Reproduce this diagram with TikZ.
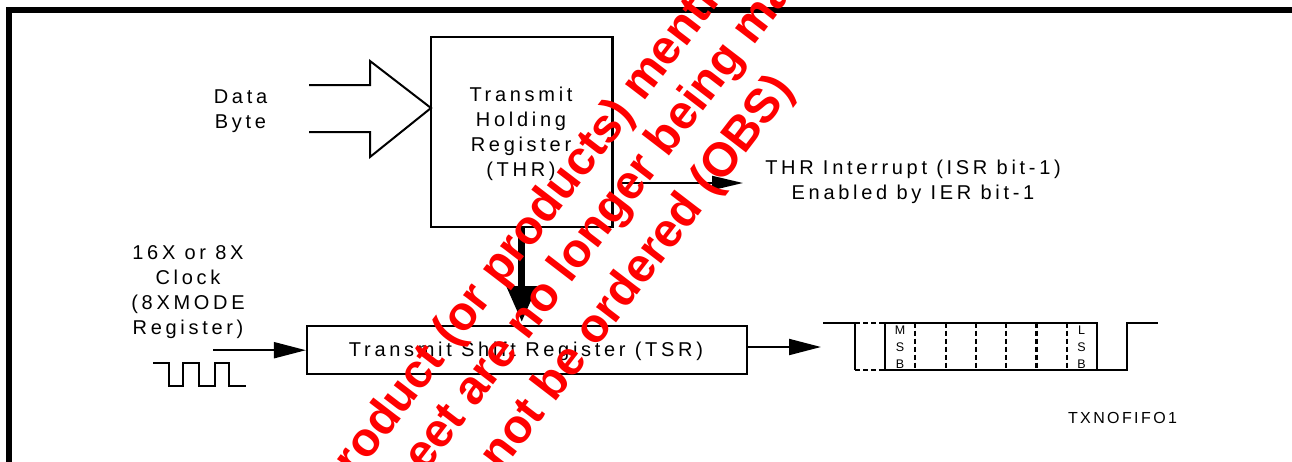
\documentclass[tikz,border=0pt]{standalone}
\usepackage{fontspec}
\setmainfont{Liberation Sans}
\newfontfamily\spfont[LetterSpace=18.5]{Liberation Sans}
\newfontfamily\spfontb[LetterSpace=15]{Liberation Sans}
\usetikzlibrary{arrows.meta}
\begin{document}
\begin{tikzpicture}[x=1pt,y=-1pt,
  lbl/.style={inner sep=0pt, align=center, font=\spfont\fontsize{20}{25}\selectfont},
  box/.style={draw, line width=2.2pt, inner sep=0pt},
  arr/.style={line width=2pt, -{Triangle[length=32pt,width=16pt]}},
  wave/.style={line width=2.2pt},
  dsh/.style={line width=2.2pt, dash pattern=on 5pt off 3pt},
  bitlbl/.style={inner sep=0pt, anchor=base, align=center, font=\fontsize{12.5}{17}\selectfont},
  wm/.style={text=red, inner sep=0pt, rotate=52.5, font=\bfseries\fontsize{47.7}{47.7}\selectfont}]
\path[use as bounding box, fill=white] (0,0) rectangle (1292,461);
\begin{scope}
\clip (0,0) rectangle (1292,461);
% frame
\draw[line width=6pt] (1310,9.7) -- (8.5,9.7) -- (8.5,480);
% THR box
\node[box, minimum width=181.5pt, minimum height=190pt] (thr) at (521.75,132) {};
\node[lbl, anchor=base] (thrtxt) at (521,176.5) {Transmit\\Holding\\Register\\(THR)};
% Data byte hollow arrow
\coordinate (dtip) at (431,108);
\draw[line width=2pt, line join=miter] (309,85) -- (370,85) -- (370,61) -- (dtip) -- (370,157) -- (370,132) -- (309,132);
\node[lbl, anchor=base] (data) at (240.5,128) {Data\\Byte};
% interrupt
\coordinate (intA) at (622,183);
\coordinate (intB) at (743,183);
\draw[line width=2pt, -{Triangle[length=31pt,width=14pt]}] (intA) -- (intB);
\node[lbl, anchor=base] (int) at (913,199) {THR Interrupt (ISR bit-1)\\Enabled by IER bit-1};
% TSR
\node[box, minimum width=440pt, minimum height=48pt] (tsr) at (527,350.2) {};
\node[lbl, anchor=base] (tsrtxt) at (526,356.7) {Transmit Shift Register (TSR)};
\draw[line width=7pt, -{Triangle[length=36pt,width=29pt]}, shorten >=3pt] (thr.south) -- (thr.south |- tsr.north);
% clock
\node[lbl, anchor=base] (clk) at (188,334.5) {16X or 8X\\Clock\\(8XMODE\\Register)};
\coordinate (clkA) at (213,350.2);
\draw[arr] (clkA) -- (tsr.west);
\draw[line width=2pt] (153,363) -- (169,363) -- (169,385.5) -- (183,385.5) -- (183,363) -- (199,363) -- (199,385.5) -- (215,385.5) -- (215,363) -- (229,363) -- (229,385.5) -- (246,385.5);
% TSR output
\coordinate (wv) at (821,347);
\draw[arr] (tsr.east |- wv) -- (wv);
% serial waveform
\draw[wave] (823,322.7) -- (855,322.7) -- (855,370);
\draw[dsh] (855,322.7) -- (885,322.7);
\draw[dsh] (855,370) -- (885,370);
\draw[wave] (885,322.7) rectangle (1097,370);
\foreach \x in {915.3,945.6,975.9,1006.1,1036.4,1066.7}
  \draw[dsh] (\x,322.7) -- (\x,370);
\draw[wave] (1097,370) -- (1127,370) -- (1127,322.7) -- (1158,322.7);
\node[bitlbl] (msb) at (900,368.3) {M\\S\\B};
\node[bitlbl] (lsb) at (1081.5,368.3) {L\\S\\B};
\node[inner sep=0pt, anchor=base, font=\spfontb\fontsize{16}{16}\selectfont] (fig) at (1122.5,423.3) {TXNOFIFO1};
% watermark
\node[wm, anchor=base west] (wm1) at (338.1,500.4) {product (or products) mentioned in this data};
\node[wm, anchor=base west] (wm2) at (391.6,517.8) {sheet are no longer being manufactured and};
\node[wm, anchor=base east] (wm3) at (795,90) {not be ordered (OBS)};
\end{scope}
\end{tikzpicture}
\end{document}
